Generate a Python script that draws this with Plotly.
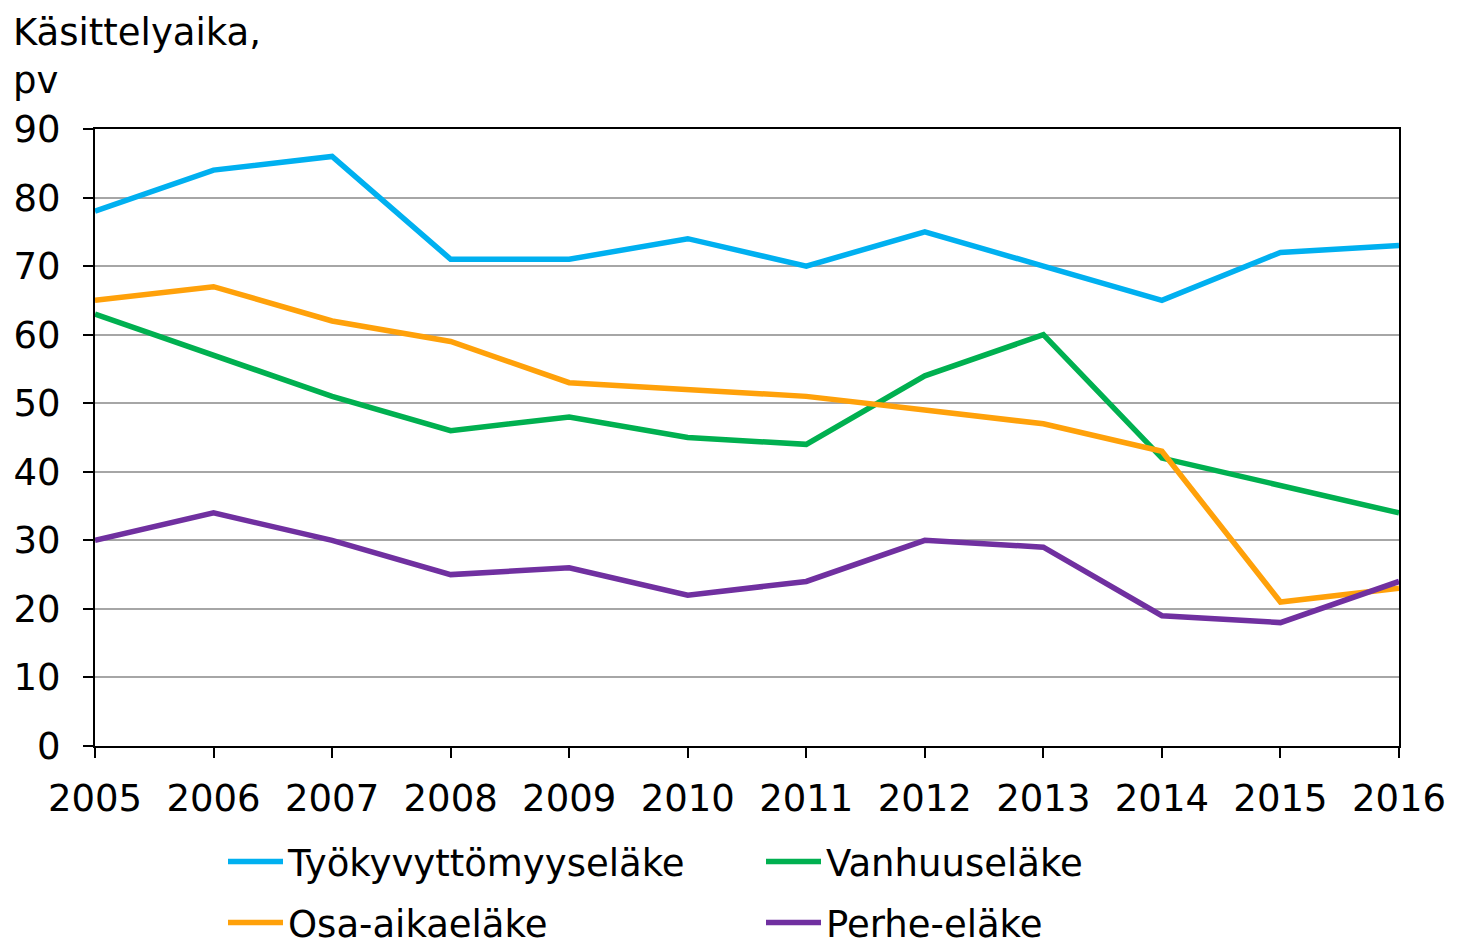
import plotly.graph_objects as go

years = [2005, 2006, 2007, 2008, 2009, 2010, 2011, 2012, 2013, 2014, 2015, 2016]
tyokyvyttomyys = [78, 84, 86, 71, 71, 74, 70, 75, 70, 65, 72, 73]
vanhuus = [63, 57, 51, 46, 48, 45, 44, 54, 60, 42, 38, 34]
osa_aika = [65, 67, 62, 59, 53, 52, 51, 49, 47, 43, 21, 23]
perhe = [30, 34, 30, 25, 26, 22, 24, 30, 29, 19, 18, 24]

series = [
    ("Työkyvyttömyyseläke", tyokyvyttomyys, "#00B0F0", "legend"),
    ("Vanhuuseläke", vanhuus, "#00B050", "legend"),
    ("Osa-aikaeläke", osa_aika, "#FFA10A", "legend2"),
    ("Perhe-eläke", perhe, "#7030A0", "legend2"),
]

FONT = "DejaVu Sans"
FS = 37
OFF = 7  # page offset of the figure in the screenshot
L, T, W, H = 94 - OFF, 128 - OFF, 1304, 617

fig = go.Figure()
for name, vals, col, lg in series:
    fig.add_trace(go.Scatter(x=years, y=vals, name=name, mode="lines",
                             line=dict(color=col, width=5.5), legend=lg))

def py(pix):
    return (T + H - (pix - OFF)) / H

def px(pix):
    return ((pix - OFF) - L) / W

leg_common = dict(orientation="h", x=px(222), xanchor="left", yanchor="middle",
                  entrywidth=468, entrywidthmode="pixels", itemwidth=55,
                  font=dict(family=FONT, size=FS, color="black"),
                  bgcolor="rgba(0,0,0,0)")

fig.update_layout(
    width=1457, height=945,
    margin=dict(l=L, r=1457 - L - W, t=T, b=945 - T - H, autoexpand=False),
    paper_bgcolor="white", plot_bgcolor="white",
    font=dict(family=FONT, size=FS, color="black"),
    showlegend=True,
    legend=dict(y=py(861), **leg_common),
    legend2=dict(y=py(922), **leg_common),
    xaxis=dict(range=[2005, 2016], tickmode="array", tickvals=years,
               ticktext=[str(y) for y in years], showgrid=False,
               showline=True, linecolor="black", linewidth=2, mirror=True,
               ticks="outside", ticklen=10, tickwidth=2, tickcolor="black",
               ticklabelstandoff=9,
               tickfont=dict(family=FONT, size=FS), zeroline=False),
    yaxis=dict(range=[0, 90], tickmode="array", tickvals=list(range(0, 100, 10)),
               showgrid=True, gridcolor="#A6A6A6", gridwidth=1.5,
               showline=True, linecolor="black", linewidth=2, mirror=True,
               ticks="outside", ticklen=10, tickwidth=2, tickcolor="black",
               ticklabelstandoff=15,
               tickfont=dict(family=FONT, size=FS), zeroline=False),
)

fig.add_annotation(text="Käsittelyaika,<br>pv", xref="paper", yref="paper",
                   x=px(10), y=py(8), xanchor="left", yanchor="top",
                   showarrow=False, align="left",
                   font=dict(family=FONT, size=FS, color="black"))

fig.write_html("out.html")
